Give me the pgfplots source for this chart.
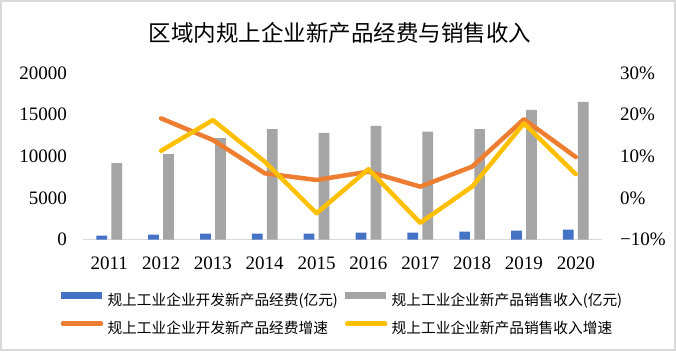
\documentclass[border=0pt]{standalone}
\usepackage{pgfplots}
\pgfplotsset{compat=1.18}
\usepackage{fontspec}
\setmainfont{Liberation Serif}
\newfontfamily\cjk{Noto Sans CJK SC}
\definecolor{cblue}{HTML}{4472C4}
\definecolor{cgray}{HTML}{A5A5A5}
\definecolor{corange}{HTML}{ED7D31}
\definecolor{cyellow}{HTML}{FFC000}
\definecolor{cborder}{HTML}{D9D9D9}
\begin{document}
\begin{tikzpicture}[x=1bp,y=1bp]
\useasboundingbox (0,0) rectangle (676,351);
\fill[white] (0,0) rectangle (676,351);
\draw[cborder, line width=2bp] (1,1) rectangle (675,350);
\node[font=\cjk\fontsize{22.5bp}{26bp}\selectfont] at (340,318.5) {区域内规上企业新产品经费与销售收入};

\begin{axis}[
  at={(83.3bp,111.5bp)}, anchor=south west, scale only axis,
  width=518.4bp, height=166.5bp,
  xmin=-0.5, xmax=9.5, ymin=0, ymax=20000,
  axis x line*=bottom, axis y line*=left,
  x axis line style={cborder, line width=1.3bp, -},
  y axis line style={draw=none},
  xtick={0,...,9}, xticklabels={2011,2012,2013,2014,2015,2016,2017,2018,2019,2020},
  ytick={0,5000,10000,15000,20000}, yticklabels={0,5000,10000,15000,20000},
  scaled y ticks=false,
  major tick length=0pt,
  tick label style={font=\fontsize{19bp}{22bp}\selectfont},
  yticklabel style={anchor=east, inner sep=0pt, xshift=-16.3bp},
  xticklabel style={anchor=north, inner sep=0pt, yshift=-17.3bp},
  clip=false,
]
\addplot[ybar, bar width=10.7bp, bar shift=-7.5bp, fill=cblue, draw=none]
  coordinates {(0,456) (1,577) (2,697) (3,697) (4,697) (5,817) (6,817) (7,937) (8,1057) (9,1177)};
\addplot[ybar, bar width=10.7bp, bar shift=7.5bp, fill=cgray, draw=none]
  coordinates {(0,9189) (1,10270) (2,12192) (3,13273) (4,12793) (5,13634) (6,12949) (7,13273) (8,15556) (9,16517)};
\end{axis}

\begin{axis}[
  at={(83.3bp,111.5bp)}, anchor=south west, scale only axis,
  width=518.4bp, height=166.5bp,
  xmin=-0.5, xmax=9.5, ymin=-10, ymax=30,
  axis x line=none, axis y line*=right,
  y axis line style={draw=none},
  ytick={-10,0,10,20,30}, yticklabels={−10\%,0\%,10\%,20\%,30\%},
  major tick length=0pt,
  tick label style={font=\fontsize{19bp}{22bp}\selectfont},
  yticklabel style={anchor=west, inner sep=0pt, xshift=18.3bp},
  clip=false,
  legend columns=2,
  legend cell align=left,
  legend style={draw=none, fill=none, inner sep=0pt, outer sep=0pt,
    at={(-0.0436,-0.318)}, anchor=north west,
    font=\cjk\fontsize{14.7bp}{16bp}\selectfont,
    nodes={inner sep=0pt, text height=11.5bp, text depth=3.2bp},
    row sep=13bp,
    /tikz/every odd column/.append style={column sep=4.3bp},
    /tikz/every even column/.append style={column sep=7bp}},
]
\addlegendimage{legend image code/.code={\fill[cblue] (0bp,2.5bp) rectangle (40bp,8.5bp);}}
\addlegendentry{规上工业企业开发新产品经费(亿元)}
\addlegendimage{legend image code/.code={\fill[cgray] (0bp,2.5bp) rectangle (40bp,8.5bp);}}
\addlegendentry{规上工业企业新产品销售收入(亿元)}
\addplot[corange, line width=4.5bp, line join=round, line cap=round,
  legend image code/.code={\draw[corange, line width=4.5bp, line cap=round] (2bp,5.5bp) -- (40bp,5.5bp);}]
  coordinates {(1,19.1) (2,13.9) (3,5.9) (4,4.3) (5,6.3) (6,2.7) (7,7.5) (8,18.9) (9,9.8)};
\addlegendentry{规上工业企业开发新产品经费增速}
\addplot[cyellow, line width=4.5bp, line join=round, line cap=round,
  legend image code/.code={\draw[cyellow, line width=4.5bp, line cap=round] (2bp,5.5bp) -- (40bp,5.5bp);}]
  coordinates {(1,11.3) (2,18.7) (3,8.7) (4,-3.7) (5,6.9) (6,-6.0) (7,2.7) (8,17.9) (9,5.7)};
\addlegendentry{规上工业企业新产品销售收入增速}
\end{axis}
\end{tikzpicture}
\end{document}
